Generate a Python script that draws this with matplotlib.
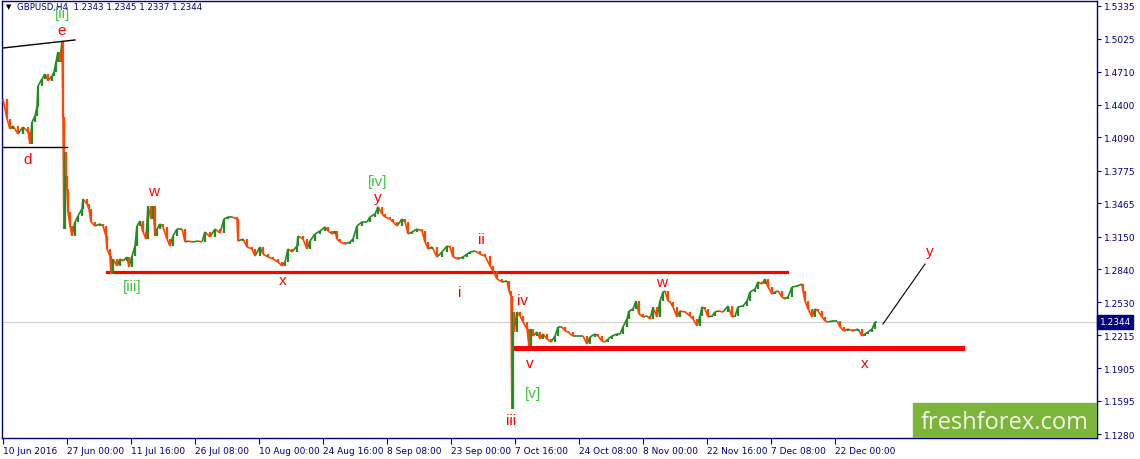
import matplotlib
matplotlib.use("Agg")
import matplotlib.pyplot as plt
from matplotlib.collections import LineCollection
from matplotlib.transforms import blended_transform_factory

# GBPUSD H4 closes (bar index, price)
bar_idx = [
    3, 7, 10, 13, 18, 23, 28, 30, 32, 35, 37, 38, 42, 45, 48, 52, 54, 56, 58, 60,
    62, 63, 64, 65, 66, 67, 68, 70, 72, 75, 78, 82, 83, 87, 89, 91, 95, 100, 103, 106,
    107, 110, 111, 113, 117, 120, 123, 127, 129, 132, 135, 137, 140, 143, 146, 148, 151, 153, 155, 157,
    160, 163, 167, 170, 173, 177, 182, 185, 188, 193, 198, 202, 205, 210, 215, 220, 224, 228, 232, 237,
    238, 243, 247, 252, 255, 260, 263, 268, 273, 278, 282, 285, 288, 292, 297, 298, 303, 307, 310, 315,
    320, 325, 328, 332, 335, 337, 340, 345, 350, 353, 357, 362, 367, 370, 375, 378, 382, 385, 390, 393,
    397, 402, 405, 408, 412, 417, 422, 425, 428, 432, 437, 442, 447, 450, 453, 458, 463, 467, 470, 475,
    480, 485, 490, 493, 497, 502, 507, 509, 511, 512, 513, 514, 517, 520, 523, 527, 529, 531, 533, 537,
    540, 543, 547, 551, 555, 558, 562, 565, 568, 573, 578, 583, 587, 590, 595, 598, 602, 605, 608, 612,
    617, 620, 623, 627, 629, 633, 636, 639, 643, 647, 650, 653, 657, 660, 663, 665, 668, 670, 673, 677,
    680, 685, 690, 693, 697, 700, 702, 705, 708, 712, 715, 718, 723, 728, 732, 735, 738, 743, 747, 750,
    755, 758, 762, 765, 768, 772, 775, 778, 782, 785, 788, 792, 797, 802, 803, 805, 808, 812, 815, 818,
    822, 825, 828, 832, 837, 840, 844, 848, 853, 858, 862, 865, 868, 872, 875, 877,
]
close = [
    1.4454, 1.4265, 1.4170, 1.4199, 1.4123, 1.4189, 1.4142, 1.4028, 1.4236, 1.4293,
    1.4379, 1.4577, 1.4644, 1.4691, 1.4625, 1.4672, 1.4710, 1.4805, 1.4899, 1.4805,
    1.5004, 1.4284, 1.3223, 1.3952, 1.3725, 1.3602, 1.3384, 1.3252, 1.3157, 1.3290,
    1.3346, 1.3413, 1.3507, 1.3460, 1.3413, 1.3290, 1.3252, 1.3271, 1.3252, 1.3157,
    1.3034, 1.2967, 1.2797, 1.2939, 1.2873, 1.2939, 1.2920, 1.2958, 1.2863, 1.2967,
    1.3062, 1.3252, 1.3299, 1.3195, 1.3128, 1.3441, 1.3318, 1.3441, 1.3157, 1.3223,
    1.3271, 1.3242, 1.3128, 1.3062, 1.3157, 1.3223, 1.3223, 1.3100, 1.3109, 1.3100,
    1.3109, 1.3100, 1.3195, 1.3148, 1.3223, 1.3185, 1.3318, 1.3337, 1.3337, 1.3318,
    1.3109, 1.3128, 1.3053, 1.3034, 1.2967, 1.3053, 1.2986, 1.2958, 1.2939, 1.2911,
    1.2873, 1.2911, 1.3034, 1.3005, 1.3062, 1.3157, 1.3128, 1.3034, 1.3109, 1.3176,
    1.3204, 1.3242, 1.3204, 1.3176, 1.3204, 1.3128, 1.3100, 1.3081, 1.3100, 1.3128,
    1.3252, 1.3290, 1.3290, 1.3337, 1.3365, 1.3432, 1.3365, 1.3337, 1.3318, 1.3290,
    1.3252, 1.3318, 1.3290, 1.3176, 1.3195, 1.3223, 1.3204, 1.3100, 1.3034, 1.3053,
    1.2958, 1.3005, 1.3062, 1.3053, 1.2958, 1.2939, 1.2958, 1.2986, 1.3005, 1.3015,
    1.2986, 1.2967, 1.2873, 1.2825, 1.2750, 1.2721, 1.2731, 1.2636, 1.2589, 1.1519,
    1.2437, 1.2248, 1.2437, 1.2399, 1.2342, 1.2276, 1.2115, 1.2276, 1.2210, 1.2248,
    1.2181, 1.2229, 1.2181, 1.2153, 1.2210, 1.2295, 1.2295, 1.2257, 1.2248, 1.2210,
    1.2210, 1.2210, 1.2134, 1.2200, 1.2229, 1.2210, 1.2162, 1.2153, 1.2181, 1.2210,
    1.2229, 1.2229, 1.2295, 1.2371, 1.2447, 1.2466, 1.2541, 1.2418, 1.2390, 1.2399,
    1.2371, 1.2480, 1.2390, 1.2541, 1.2626, 1.2636, 1.2541, 1.2532, 1.2485, 1.2390,
    1.2447, 1.2437, 1.2399, 1.2371, 1.2305, 1.2399, 1.2485, 1.2466, 1.2390, 1.2399,
    1.2437, 1.2447, 1.2437, 1.2494, 1.2390, 1.2399, 1.2485, 1.2494, 1.2541, 1.2626,
    1.2655, 1.2721, 1.2702, 1.2750, 1.2674, 1.2608, 1.2626, 1.2636, 1.2579, 1.2560,
    1.2579, 1.2674, 1.2683, 1.2702, 1.2636, 1.2541, 1.2466, 1.2390, 1.2466, 1.2447,
    1.2390, 1.2352, 1.2342, 1.2352, 1.2352, 1.2295, 1.2257, 1.2276, 1.2257, 1.2276,
    1.2210, 1.2229, 1.2248, 1.2276, 1.2342, 1.2344,
]

price_ticks = [1.5335, 1.5025, 1.4710, 1.4400, 1.4090, 1.3775, 1.3465, 1.3150,
               1.2840, 1.2530, 1.2215, 1.1905, 1.1595, 1.1280]
date_ticks = [3, 67, 131, 195, 259, 323, 387, 451, 515, 579, 643, 707, 771, 835]
date_labels = ["10 Jun 2016", "27 Jun 00:00", "11 Jul 16:00", "26 Jul 08:00",
               "10 Aug 00:00", "24 Aug 16:00", "8 Sep 08:00", "23 Sep 00:00",
               "7 Oct 16:00", "24 Oct 08:00", "8 Nov 00:00", "22 Nov 16:00",
               "7 Dec 08:00", "22 Dec 00:00"]

# wave labels: (text, bar, price, is_green)
wave_labels = [
    ("[ii]", 62, 1.5269, True), ("e", 62, 1.5108, False), ("d", 28, 1.3886, False),
    ("w", 154, 1.3583, False), ("[iii]", 132, 1.2683, True), ("x", 283, 1.2740, False),
    ("[iv]", 378, 1.3678, True), ("y", 378, 1.3526, False), ("ii", 481, 1.3128, False),
    ("i", 460, 1.2626, False), ("iv", 522, 1.2551, False), ("v", 530, 1.1954, False),
    ("[v]", 533, 1.1670, True), ("iii", 511, 1.1414, False), ("w", 662, 1.2721, False),
    ("y", 930, 1.3015, False), ("x", 865, 1.1954, False),
]

navy = "#000080"
up_col = "#228b22"
down_col = "#ff4500"

fig = plt.figure(figsize=(11.4, 4.6), dpi=100)
ax = fig.add_axes([2 / 1140, 21 / 460, 1095 / 1140, 437 / 460])
ax.set_xlim(2, 1097)
ax.set_ylim(1.1244, 1.5382)

# bid line
ax.axhline(close[-1], color="#d0d0d0", lw=0.8, zorder=1)

# price path, coloured by direction: thin connecting line + bar-like verticals
segs, bars, cols = [], [], []
for i in range(1, len(close)):
    segs.append([(bar_idx[i - 1], close[i - 1]), (bar_idx[i], close[i])])
    bars.append([(bar_idx[i], close[i - 1]), (bar_idx[i], close[i])])
    cols.append(up_col if close[i] >= close[i - 1] else down_col)
ax.add_collection(LineCollection(segs, colors=cols, linewidths=1.2, zorder=3))
ax.add_collection(LineCollection(bars, colors=cols, linewidths=1.6, zorder=3,
                                 capstyle="butt"))

# support / resistance lines
ax.plot([107, 787], [1.2820, 1.2820], color="#ff0000", lw=2.3, zorder=2)
ax.plot([513, 962], [1.2100, 1.2100], color="#ff0000", lw=3.6, zorder=2)

# trend lines
ax.plot([3, 75], [1.4937, 1.5013], color="black", lw=1, zorder=4)
ax.plot([3, 67], [1.3995, 1.3995], color="black", lw=1, zorder=4)
ax.plot([883, 925], [1.2324, 1.2891], color="black", lw=0.8, zorder=4)

for txt, bx, py, green in wave_labels:
    ax.text(bx, py, txt, ha="center", va="center", fontsize=11,
            family="Liberation Sans", color="#3cc43c" if green else "#ff0000", zorder=5)

# axes styling
for sp in ax.spines.values():
    sp.set_color(navy)
    sp.set_linewidth(1)
ax.yaxis.tick_right()
ax.set_yticks(price_ticks)
ax.set_yticklabels([f"{p:.4f}" for p in price_ticks])
ax.tick_params(axis="y", direction="out", length=3, width=0.8, color=navy,
               labelcolor=navy, labelsize=6.5, pad=2)
ax.set_xticks(date_ticks)
ax.set_xticklabels(date_labels)
ax.tick_params(axis="x", direction="out", length=4, width=0.8, color=navy,
               labelcolor=navy, labelsize=6.5, pad=2)
for lbl in ax.get_xticklabels():
    lbl.set_horizontalalignment("left")

# current price box
tr = blended_transform_factory(ax.transAxes, ax.transData)
ax.text(1.0025, close[-1], f"{close[-1]:.4f}", transform=tr, ha="left", va="center",
        fontsize=6.5, color="white", clip_on=False,
        bbox=dict(boxstyle="square,pad=0.25", fc=navy, ec=navy))

# header
ax.text(6, 1.5335 - 0.0005, "\u25bc", fontsize=5, color="black", va="center", ha="left")
ax.text(17, 1.5335 - 0.0005, "GBPUSD,H4  1.2343 1.2345 1.2337 1.2344", fontsize=6.2,
        color=navy, va="center", ha="left")

# logo
ax.add_patch(plt.Rectangle((913, 1.1244), 184, 0.0330, color="#7db53a", zorder=6))
ax.text(1005, 1.1400, "freshforex.com", fontsize=17, family="Open Sans",
        color="#f4f8ea", ha="center", va="center", zorder=7)

fig.savefig("out.png", dpi=100)
